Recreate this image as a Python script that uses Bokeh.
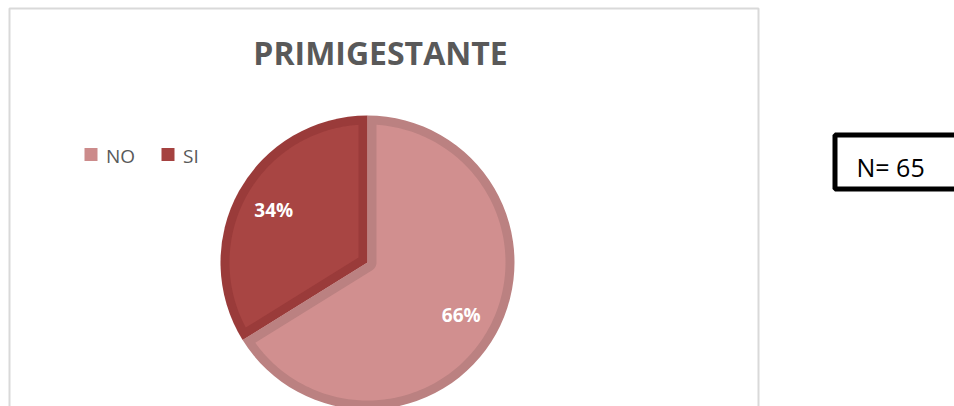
import numpy as np
from bokeh.plotting import figure
from bokeh.models import Range1d
from bokeh.core.properties import value
from bokeh.embed import file_html
from bokeh.resources import INLINE

# ---- data ----
title_text = "PRIMIGESTANTE"
categories = ["NO", "SI"]
counts = [43, 22]
fill_colors = ["#D18F8F", "#A84543"]
edge_colors = ["#BB8181", "#9A3B3A"]
legend_colors = ["#CC8B8B", "#A54240"]
n_label = "N= 65"

# ---- figure in page-pixel coordinates (y up) ----
W, H = 954, 406
p = figure(width=W, height=H, output_backend="svg", toolbar_location=None,
           x_range=Range1d(0, W), y_range=Range1d(0, H), min_border=0,
           x_axis_location=None, y_axis_location=None)
p.grid.visible = False
p.outline_line_color = None
p.background_fill_color = "white"
p.border_fill_color = "white"


def sy(s):
    # page-pixel y (down) -> data y (up)
    return H - s


FONT = value("Open Sans")

# chart frame
p.quad(left=9, right=758, top=sy(8), bottom=sy(420), fill_color=None,
       line_color="#D9D9D9", line_width=2)

# title
p.text(x=[380], y=[sy(52)], text=[title_text], text_font=FONT,
       text_font_size="32px", text_font_style="bold", text_color="#595959",
       text_align="center", text_baseline="middle")

# ---- pie ----
cx, cy, r, d = 367, sy(262), 147, 9
vals = np.array(counts, dtype=float)
fracs = vals / vals.sum()
cum = np.concatenate([[0], np.cumsum(fracs)])
ends = np.pi / 2 - cum[:-1] * 2 * np.pi
starts = np.pi / 2 - cum[1:] * 2 * np.pi

p.wedge(x=cx, y=cy, radius=r, start_angle=list(starts), end_angle=list(ends),
        fill_color=edge_colors, line_color=None)


def inset_poly(s, e):
    ri = r - d
    dl = np.arcsin(d / ri)
    arc = np.linspace(s + dl, e - dl, 200)
    xs = list(cx + ri * np.cos(arc))
    ys = list(cy + ri * np.sin(arc))
    w = e - s
    if w < np.pi:
        dist = d / np.sin(w / 2)
        b = (s + e) / 2
        xs.append(cx + dist * np.cos(b))
        ys.append(cy + dist * np.sin(b))
    else:
        a2 = np.linspace(e - np.pi / 2, s + np.pi / 2, 40)
        xs += list(cx + d * np.cos(a2))
        ys += list(cy + d * np.sin(a2))
    return xs, ys


pxs, pys = [], []
for s, e in zip(starts, ends):
    xs, ys = inset_poly(s, e)
    pxs.append(xs)
    pys.append(ys)
p.patches(xs=pxs, ys=pys, fill_color=fill_colors, line_color=None)

# percentage labels
mids = (starts + ends) / 2
lr = 0.73 * r
p.text(x=list(cx + lr * np.cos(mids)), y=list(cy + lr * np.sin(mids)),
       text=[f"{round(f * 100)}%" for f in fracs], text_font=FONT,
       text_font_size="19px", text_font_style="bold", text_color="white",
       text_align="center", text_baseline="middle")

# ---- legend ----
leg_x = [90.5, 167.5]
p.rect(x=leg_x, y=[sy(154)] * 2, width=13, height=13,
       fill_color=legend_colors, line_color=None)
p.text(x=[x + 15 for x in leg_x], y=[sy(155)] * 2, text=categories,
       text_font=FONT, text_font_size="19px", text_color="#595959",
       text_align="left", text_baseline="middle")

# ---- N box ----
p.quad(left=834.5, right=990, top=sy(134.5), bottom=sy(188.5), fill_color=None,
       line_color="black", line_width=5)
p.text(x=[856], y=[sy(166)], text=[n_label], text_font=FONT,
       text_font_size="25px", text_color="black",
       text_align="left", text_baseline="middle")

open("out.html", "w").write(file_html(p, INLINE))
